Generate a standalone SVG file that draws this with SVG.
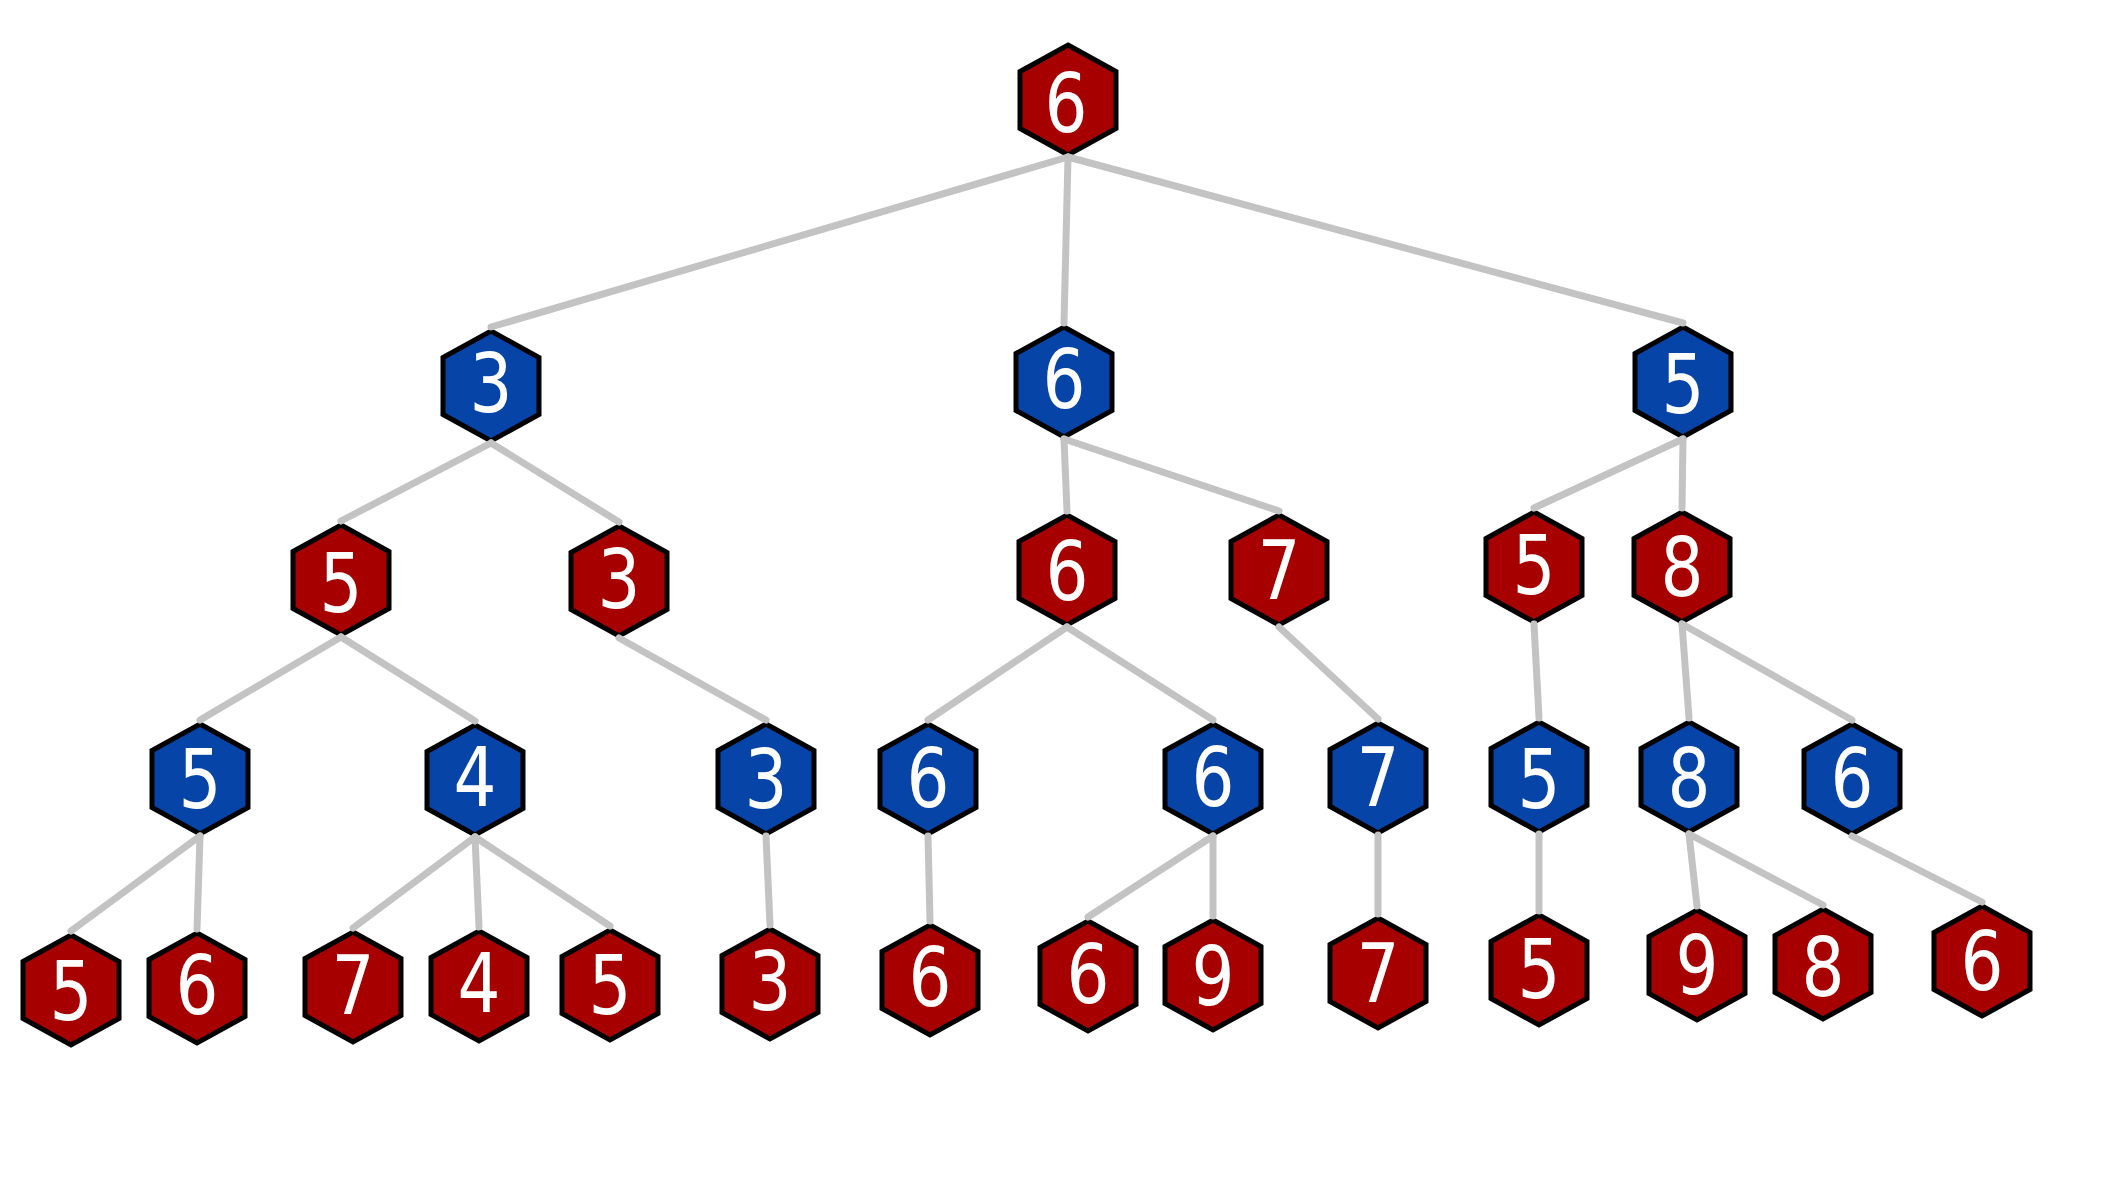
<svg xmlns="http://www.w3.org/2000/svg" width="2122" height="1200" viewBox="0 0 2122 1200">
<style>
.hex{stroke:#000;stroke-width:5;stroke-linejoin:miter}
.r{fill:#a60000}
.b{fill:#0644a8}
.t{font-family:"DejaVu Sans",sans-serif;font-size:82px;fill:#fff;text-anchor:middle}
.e{stroke:#c3c3c3;stroke-width:7;stroke-linecap:round;fill:none}
</style>
<defs>
<polygon id="h" points="0,-55 48,-28.5 48,28.5 0,55 -48,28.5 -48,-28.5"/>
</defs>
<rect width="2122" height="1200" fill="#fff"/>
<g id="nodes">
<g id="n0"><use href="#h" class="hex r" x="1068" y="100"/><text class="t" x="1066" y="132" textLength="43" lengthAdjust="spacingAndGlyphs">6</text></g>
<g id="n1"><use href="#h" class="hex b" x="491" y="386"/><text class="t" x="491" y="412" textLength="43" lengthAdjust="spacingAndGlyphs">3</text></g>
<g id="n2"><use href="#h" class="hex b" x="1064" y="382"/><text class="t" x="1064" y="408" textLength="43" lengthAdjust="spacingAndGlyphs">6</text></g>
<g id="n3"><use href="#h" class="hex b" x="1683" y="382"/><text class="t" x="1683" y="413" textLength="43" lengthAdjust="spacingAndGlyphs">5</text></g>
<g id="n4"><use href="#h" class="hex r" x="341" y="580"/><text class="t" x="341" y="612" textLength="43" lengthAdjust="spacingAndGlyphs">5</text></g>
<g id="n5"><use href="#h" class="hex r" x="619" y="581"/><text class="t" x="619" y="608" textLength="43" lengthAdjust="spacingAndGlyphs">3</text></g>
<g id="n6"><use href="#h" class="hex r" x="1067" y="570"/><text class="t" x="1067" y="600" textLength="43" lengthAdjust="spacingAndGlyphs">6</text></g>
<g id="n7"><use href="#h" class="hex r" x="1279" y="570"/><text class="t" x="1279" y="599" textLength="43" lengthAdjust="spacingAndGlyphs">7</text></g>
<g id="n8"><use href="#h" class="hex r" x="1534" y="567"/><text class="t" x="1534" y="594" textLength="43" lengthAdjust="spacingAndGlyphs">5</text></g>
<g id="n9"><use href="#h" class="hex r" x="1682" y="567"/><text class="t" x="1682" y="596" textLength="43" lengthAdjust="spacingAndGlyphs">8</text></g>
<g id="n10"><use href="#h" class="hex b" x="200" y="779"/><text class="t" x="200" y="808" textLength="43" lengthAdjust="spacingAndGlyphs">5</text></g>
<g id="n11"><use href="#h" class="hex b" x="475" y="780"/><text class="t" x="475" y="806" textLength="43" lengthAdjust="spacingAndGlyphs">4</text></g>
<g id="n12"><use href="#h" class="hex b" x="766" y="779"/><text class="t" x="766" y="808" textLength="43" lengthAdjust="spacingAndGlyphs">3</text></g>
<g id="n13"><use href="#h" class="hex b" x="928" y="779"/><text class="t" x="928" y="807" textLength="43" lengthAdjust="spacingAndGlyphs">6</text></g>
<g id="n14"><use href="#h" class="hex b" x="1213" y="779"/><text class="t" x="1213" y="806" textLength="43" lengthAdjust="spacingAndGlyphs">6</text></g>
<g id="n15"><use href="#h" class="hex b" x="1378" y="778"/><text class="t" x="1378" y="806" textLength="43" lengthAdjust="spacingAndGlyphs">7</text></g>
<g id="n16"><use href="#h" class="hex b" x="1539" y="777"/><text class="t" x="1539" y="808" textLength="43" lengthAdjust="spacingAndGlyphs">5</text></g>
<g id="n17"><use href="#h" class="hex b" x="1689" y="777"/><text class="t" x="1689" y="807" textLength="43" lengthAdjust="spacingAndGlyphs">8</text></g>
<g id="n18"><use href="#h" class="hex b" x="1852" y="779"/><text class="t" x="1852" y="807" textLength="43" lengthAdjust="spacingAndGlyphs">6</text></g>
<g id="n19"><use href="#h" class="hex r" x="71" y="990"/><text class="t" x="71" y="1020" textLength="43" lengthAdjust="spacingAndGlyphs">5</text></g>
<g id="n20"><use href="#h" class="hex r" x="197" y="988"/><text class="t" x="197" y="1014" textLength="43" lengthAdjust="spacingAndGlyphs">6</text></g>
<g id="n21"><use href="#h" class="hex r" x="353" y="987"/><text class="t" x="353" y="1014" textLength="43" lengthAdjust="spacingAndGlyphs">7</text></g>
<g id="n22"><use href="#h" class="hex r" x="479" y="986"/><text class="t" x="479" y="1012" textLength="43" lengthAdjust="spacingAndGlyphs">4</text></g>
<g id="n23"><use href="#h" class="hex r" x="610" y="985"/><text class="t" x="610" y="1014" textLength="43" lengthAdjust="spacingAndGlyphs">5</text></g>
<g id="n24"><use href="#h" class="hex r" x="770" y="984"/><text class="t" x="770" y="1010" textLength="43" lengthAdjust="spacingAndGlyphs">3</text></g>
<g id="n25"><use href="#h" class="hex r" x="930" y="980"/><text class="t" x="930" y="1006" textLength="43" lengthAdjust="spacingAndGlyphs">6</text></g>
<g id="n26"><use href="#h" class="hex r" x="1088" y="976"/><text class="t" x="1088" y="1003" textLength="43" lengthAdjust="spacingAndGlyphs">6</text></g>
<g id="n27"><use href="#h" class="hex r" x="1213" y="975"/><text class="t" x="1213" y="1005" textLength="43" lengthAdjust="spacingAndGlyphs">9</text></g>
<g id="n28"><use href="#h" class="hex r" x="1378" y="973"/><text class="t" x="1378" y="1002" textLength="43" lengthAdjust="spacingAndGlyphs">7</text></g>
<g id="n29"><use href="#h" class="hex r" x="1539" y="970"/><text class="t" x="1539" y="998" textLength="43" lengthAdjust="spacingAndGlyphs">5</text></g>
<g id="n30"><use href="#h" class="hex r" x="1697" y="965"/><text class="t" x="1697" y="994" textLength="43" lengthAdjust="spacingAndGlyphs">9</text></g>
<g id="n31"><use href="#h" class="hex r" x="1823" y="964"/><text class="t" x="1823" y="996" textLength="43" lengthAdjust="spacingAndGlyphs">8</text></g>
<g id="n32"><use href="#h" class="hex r" x="1982" y="961"/><text class="t" x="1982" y="990" textLength="43" lengthAdjust="spacingAndGlyphs">6</text></g>
</g>
<g id="edges" class="e">
<line class="e" x1="1068" y1="157" x2="491" y2="327"/>
<line class="e" x1="1068" y1="157" x2="1064" y2="323"/>
<line class="e" x1="1068" y1="157" x2="1683" y2="323"/>
<line class="e" x1="491" y1="443" x2="341" y2="521"/>
<line class="e" x1="491" y1="443" x2="619" y2="522"/>
<line class="e" x1="1064" y1="439" x2="1067" y2="511"/>
<line class="e" x1="1064" y1="439" x2="1279" y2="511"/>
<line class="e" x1="1683" y1="439" x2="1534" y2="508"/>
<line class="e" x1="1683" y1="439" x2="1682" y2="508"/>
<line class="e" x1="341" y1="637" x2="200" y2="720"/>
<line class="e" x1="341" y1="637" x2="475" y2="721"/>
<line class="e" x1="619" y1="638" x2="766" y2="720"/>
<line class="e" x1="1067" y1="627" x2="928" y2="720"/>
<line class="e" x1="1067" y1="627" x2="1213" y2="720"/>
<line class="e" x1="1279" y1="627" x2="1378" y2="719"/>
<line class="e" x1="1534" y1="624" x2="1539" y2="718"/>
<line class="e" x1="1682" y1="624" x2="1689" y2="718"/>
<line class="e" x1="1682" y1="624" x2="1852" y2="720"/>
<line class="e" x1="200" y1="836" x2="71" y2="931"/>
<line class="e" x1="200" y1="836" x2="197" y2="929"/>
<line class="e" x1="475" y1="837" x2="353" y2="928"/>
<line class="e" x1="475" y1="837" x2="479" y2="927"/>
<line class="e" x1="475" y1="837" x2="610" y2="926"/>
<line class="e" x1="766" y1="836" x2="770" y2="925"/>
<line class="e" x1="928" y1="836" x2="930" y2="921"/>
<line class="e" x1="1213" y1="836" x2="1088" y2="917"/>
<line class="e" x1="1213" y1="836" x2="1213" y2="916"/>
<line class="e" x1="1378" y1="835" x2="1378" y2="914"/>
<line class="e" x1="1539" y1="834" x2="1539" y2="911"/>
<line class="e" x1="1689" y1="834" x2="1697" y2="906"/>
<line class="e" x1="1689" y1="834" x2="1823" y2="905"/>
<line class="e" x1="1852" y1="836" x2="1982" y2="902"/>
</g>
</svg>
